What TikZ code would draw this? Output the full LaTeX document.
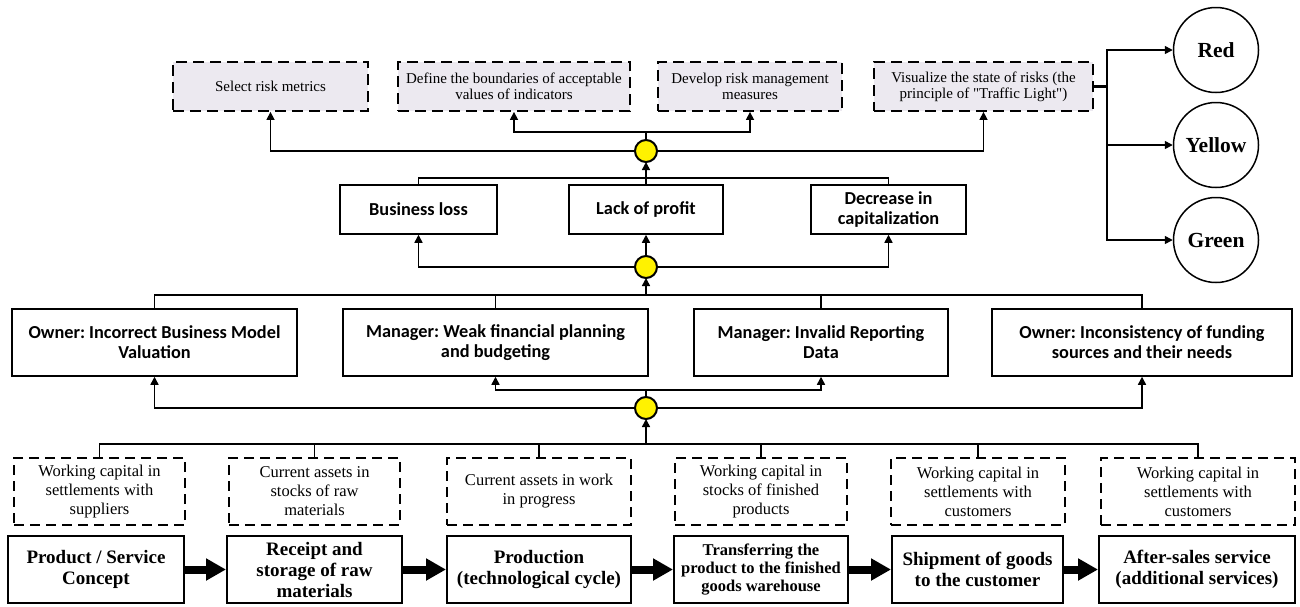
\documentclass[tikz,border=0pt]{standalone}
\usepackage{fontspec}
\setmainfont{Liberation Serif}
\newfontfamily\calibfont{Carlito}
\usepackage{tikz}
\usetikzlibrary{positioning,arrows.meta}
\definecolor{metricgray}{RGB}{236,233,240}
\frenchspacing

\begin{document}
\begin{tikzpicture}[x=1pt,y=-1pt,line width=1.5pt,
  >={Triangle[length=8pt,width=8pt]},
  measure/.style={draw,dash pattern=on 11pt off 6pt,line width=1.8pt,fill=metricgray,minimum height=49pt,align=center,font=\fontsize{15}{16}\selectfont},
  effect/.style={draw,minimum height=49pt,align=center,font=\calibfont\bfseries\fontsize{18.3}{20}\selectfont},
  cause/.style={draw,minimum height=67pt,align=center,font=\calibfont\bfseries\fontsize{18.3}{20}\selectfont},
  asset/.style={draw,dash pattern=on 10pt off 6pt,minimum height=67pt,align=center,font=\fontsize{16.5}{19}\selectfont},
  stage/.style={draw,line width=2pt,minimum height=67pt,align=center,font=\bfseries\fontsize{19}{21}\selectfont},
  junction/.style={circle,draw,line width=2pt,fill=yellow,minimum size=22pt,inner sep=0pt},
  lamp/.style={circle,draw,minimum size=85pt,inner sep=0pt,font=\bfseries\fontsize{21.5}{24}\selectfont},
  flow/.style={line width=8pt,-{Triangle[length=20pt,width=21pt]}}]
\useasboundingbox (0,0) rectangle (1300,606);
% risk management steps
\node[measure,minimum width=195pt] (sel) at (270.5,86.5) {Select risk metrics};
\node[measure,minimum width=232pt] (bnd) at (514,86.5) {Define the boundaries of acceptable\\values of indicators};
\node[measure,minimum width=184pt] (dev) at (750,86.5) {Develop risk management\\measures};
\node[measure,minimum width=219pt] (vis) at (983.5,86.5) {Visualize the state of risks (the\\principle of \textquotedbl Traffic Light\textquotedbl)};
\node[lamp] (red) at (1216,50) {Red};
\node[lamp] (yel) at (1216,145) {Yellow};
\node[lamp] (grn) at (1216,240) {Green};
% consequences
\node[effect,minimum width=157pt] (loss) at (418.5,209.5) {Business loss};
\node[effect,minimum width=154pt] (prof) at (646,209.5) {Lack of profit};
\node[effect,minimum width=155pt] (capz) at (888.5,209.5) {Decrease in\\capitalization};
% causes
\node[cause,minimum width=285pt] (own1) at (154.5,342.5) {Owner: Incorrect Business Model\\Valuation};
\node[cause,minimum width=305pt] (man1) at (495.5,342.5) {Manager: Weak financial planning\\and budgeting};
\node[cause,minimum width=254pt] (man2) at (821,342.5) {Manager: Invalid Reporting\\Data};
\node[cause,minimum width=300pt] (own2) at (1142,342.5) {Owner: Inconsistency of funding\\sources and their needs};
% working capital
\node[asset,minimum width=171pt] (wc1) at (99.5,491.5) {Working capital in\\settlements with\\suppliers};
\node[asset,minimum width=171pt] (ca1) at (314.5,491.5) {Current assets in\\stocks of raw\\materials};
\node[asset,minimum width=184pt] (ca2) at (539,491.5) {Current assets in work\\in progress};
\node[asset,minimum width=172pt] (wc2) at (761,491.5) {Working capital in\\stocks of finished\\products};
\node[asset,minimum width=174pt] (wc3) at (978,491.5) {Working capital in\\settlements with\\customers};
\node[asset,minimum width=194pt] (wc4) at (1198,491.5) {Working capital in\\settlements with\\customers};
% stages
\node[stage,minimum width=176pt] (p1) at (96,569.5) {Product / Service\\Concept};
\node[stage,minimum width=175pt] (p2) at (314.5,569.5) {Receipt and\\storage of raw\\materials};
\node[stage,minimum width=184pt] (p3) at (539,569.5) {Production\\(technological cycle)};
\node[stage,minimum width=174pt,font=\bfseries\fontsize{16.5}{18}\selectfont] (p4) at (761,569.5) {Transferring the\\product to the finished\\goods warehouse};
\node[stage,minimum width=171pt] (p5) at (977.5,569.5) {Shipment of goods\\to the customer};
\node[stage,minimum width=196pt] (p6) at (1197,569.5) {After-sales service\\(additional services)};
\foreach \a/\b in {p1/p2,p2/p3,p3/p4,p4/p5,p5/p6}
  \draw[flow] (\a.east) -- (\b.west);
% connectors
\coordinate (b4) at (646,444);
\coordinate (s3) at (646,390);
\coordinate (t3) at (646,295);
\coordinate (t2) at (646,178);
\coordinate (t1) at (646,132);
\coordinate (vs) at (1107,86.5);
\draw (wc1.north) |- (b4) -| (wc4.north);
\foreach \n in {ca1,ca2,wc2,wc3}
  \draw (\n.north) -- (\n.north |- b4);
\draw[->] (b4) -- (646,419);
\draw[->] (635,408) -| (own1.south);
\draw[->] (657,408) -| (own2.south);
\draw[->] (646,397) -- (s3) -| (man1.south);
\draw[->] (s3) -| (man2.south);
\draw (own1.north) |- (t3) -| (own2.north);
\foreach \n in {man1,man2}
  \draw (\n.north) -- (\n.north |- t3);
\draw[->] (t3) -- (646,278);
\draw[->] (635,267) -| (loss.south);
\draw[->] (657,267) -| (capz.south);
\draw[->] (646,256) -- (prof.south);
\draw (loss.north) |- (t2) -| (capz.north);
\draw[->] (prof.north) -- (646,162);
\draw[->] (635,151) -| (sel.south);
\draw[->] (657,151) -| (vis.south);
\draw[->] (646,140) -- (t1) -| (bnd.south);
\draw[->] (t1) -| (dev.south);
\draw[line width=3pt] (vis.east) -- (vs);
\draw[->] (vs) |- (red.west);
\draw[->] (vs) |- (yel.west);
\draw[->] (vs) |- (grn.west);
\node[junction] (j3) at (646,408) {};
\node[junction] (j2) at (646,267) {};
\node[junction] (j1) at (646,151) {};
\end{tikzpicture}
\end{document}
